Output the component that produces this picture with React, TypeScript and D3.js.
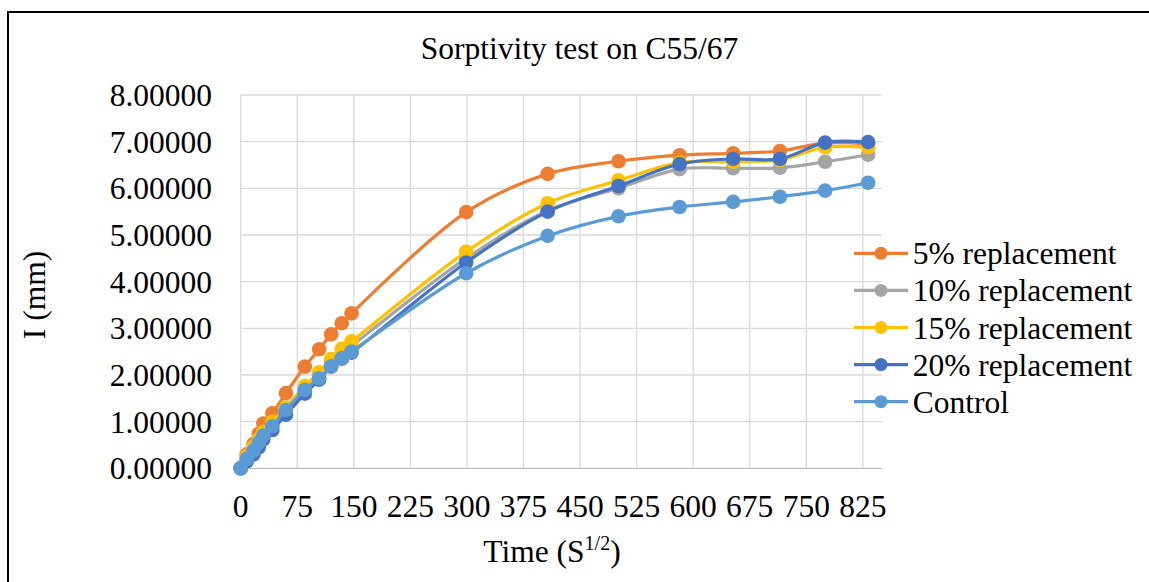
import React, { useEffect, useRef } from 'react';
import * as d3 from 'd3';

// square root of time (s^1/2) at each reading
const timeRoot = [0, 8, 17, 24, 30, 42, 60, 85, 104, 120, 134, 147, 299, 407, 501, 582, 653, 715, 775, 832];

// absorption I (mm) for each mix
const rep5 = [0, 0.3, 0.52, 0.74, 0.96, 1.18, 1.61, 2.18, 2.55, 2.87, 3.11, 3.32, 5.49, 6.31, 6.58, 6.71, 6.75, 6.8, 6.97, 6.95];
const rep10 = [0, 0.22, 0.4, 0.57, 0.72, 0.93, 1.24, 1.7, 1.98, 2.25, 2.45, 2.62, 4.5, 5.52, 6.0, 6.41, 6.43, 6.44, 6.57, 6.72];
const rep15 = [0, 0.26, 0.46, 0.63, 0.78, 1.0, 1.3, 1.76, 2.06, 2.34, 2.56, 2.72, 4.64, 5.68, 6.17, 6.55, 6.57, 6.61, 6.88, 6.88];
const rep20 = [0, 0.15, 0.3, 0.45, 0.62, 0.82, 1.15, 1.6, 1.9, 2.18, 2.35, 2.48, 4.41, 5.5, 6.05, 6.52, 6.63, 6.63, 6.98, 6.99];
const control = [0, 0.2, 0.38, 0.55, 0.7, 0.9, 1.25, 1.68, 1.93, 2.18, 2.35, 2.5, 4.18, 4.98, 5.4, 5.6, 5.71, 5.82, 5.95, 6.12];

const seriesNames = ['5% replacement', '10% replacement', '15% replacement', '20% replacement', 'Control'];
const seriesValues = [rep5, rep10, rep15, rep20, control];
const colors = ['#ED7D31', '#A5A5A5', '#FFC000', '#4472C4', '#5B9BD5'];

const xTicks = d3.range(0, 826, 75);
const yTicks = d3.range(0, 9, 1);

const W = 1149, H = 582;
const font = '"Liberation Serif", "Times New Roman", serif';

const App = () => {
    const ref = useRef(null);

    useEffect(() => {
        const svg = d3.select(ref.current);
        svg.selectAll('*').remove();

        const x = d3.scaleLinear().domain([0, 850]).range([240.7, 881.7]);
        const y = d3.scaleLinear().domain([0, 8]).range([468.3, 95]);

        // chart frame (only top and left edges fall inside the picture)
        svg.append('rect')
            .attr('x', 8).attr('y', 12)
            .attr('width', 1200).attr('height', 700)
            .attr('fill', 'none').attr('stroke', '#000').attr('stroke-width', 2);

        // gridlines
        svg.append('g').selectAll('line').data(yTicks).join('line')
            .attr('x1', x(0)).attr('x2', x(850))
            .attr('y1', d => y(d)).attr('y2', d => y(d))
            .attr('stroke', d => d === 0 ? '#bfbfbf' : '#d9d9d9')
            .attr('stroke-width', 1.3);
        svg.append('g').selectAll('line').data(xTicks).join('line')
            .attr('x1', d => x(d)).attr('x2', d => x(d))
            .attr('y1', y(0)).attr('y2', y(8))
            .attr('stroke', '#d9d9d9')
            .attr('stroke-width', 1.3);

        // tick labels
        svg.append('g').selectAll('text').data(yTicks).join('text')
            .attr('x', 212).attr('y', d => y(d)).attr('dy', '0.35em')
            .attr('text-anchor', 'end')
            .attr('font-family', font).attr('font-size', 31.5)
            .text(d => d3.format('.5f')(d));
        svg.append('g').selectAll('text').data(xTicks).join('text')
            .attr('x', d => x(d)).attr('y', 517)
            .attr('text-anchor', 'middle')
            .attr('font-family', font).attr('font-size', 31.5)
            .text(d => d);

        // series: smoothed lines then markers
        const line = d3.line()
            .x(d => x(d[0]))
            .y(d => y(d[1]))
            .curve(d3.curveCatmullRom);

        seriesValues.forEach((vals, i) => {
            const pts = vals.map((v, j) => [timeRoot[j], v]);
            const g = svg.append('g');
            g.append('path')
                .datum(pts)
                .attr('fill', 'none')
                .attr('stroke', colors[i])
                .attr('stroke-width', 3.2)
                .attr('stroke-linejoin', 'round')
                .attr('d', line);
            g.selectAll('circle').data(pts).join('circle')
                .attr('cx', d => x(d[0]))
                .attr('cy', d => y(d[1]))
                .attr('r', 7.3)
                .attr('fill', colors[i]);
        });

        // title and axis titles
        svg.append('text')
            .attr('x', 579.5).attr('y', 59)
            .attr('text-anchor', 'middle')
            .attr('font-family', font).attr('font-size', 31.5)
            .text('Sorptivity test on C55/67');

        const xt = svg.append('text')
            .attr('x', 552).attr('y', 562)
            .attr('text-anchor', 'middle')
            .attr('font-family', font).attr('font-size', 31.5);
        xt.append('tspan').text('Time (S');
        xt.append('tspan').attr('font-size', 20).attr('dy', -12).text('1/2');
        xt.append('tspan').attr('dy', 12).text(')');

        svg.append('text')
            .attr('transform', 'translate(45,295) rotate(-90)')
            .attr('text-anchor', 'middle')
            .attr('font-family', font).attr('font-size', 31.5)
            .text('I (mm)');

        // legend
        const legend = svg.append('g').selectAll('g').data(seriesNames).join('g')
            .attr('transform', (d, i) => `translate(0,${253.3 + i * 37.1})`);
        legend.append('line')
            .attr('x1', 854).attr('x2', 908)
            .attr('stroke', (d, i) => colors[i]).attr('stroke-width', 3.2);
        legend.append('circle')
            .attr('cx', 881).attr('r', 6.5)
            .attr('fill', (d, i) => colors[i]);
        legend.append('text')
            .attr('x', 912.7).attr('dy', '0.35em')
            .attr('font-family', font).attr('font-size', 31.5)
            .text(d => d);
    }, []);

    return (
        <svg
            ref={ref}
            width={W}
            height={H}
            style={{ position: 'absolute', left: 0, top: 0, display: 'block', background: '#fff' }}
        />
    );
};

export default App;
